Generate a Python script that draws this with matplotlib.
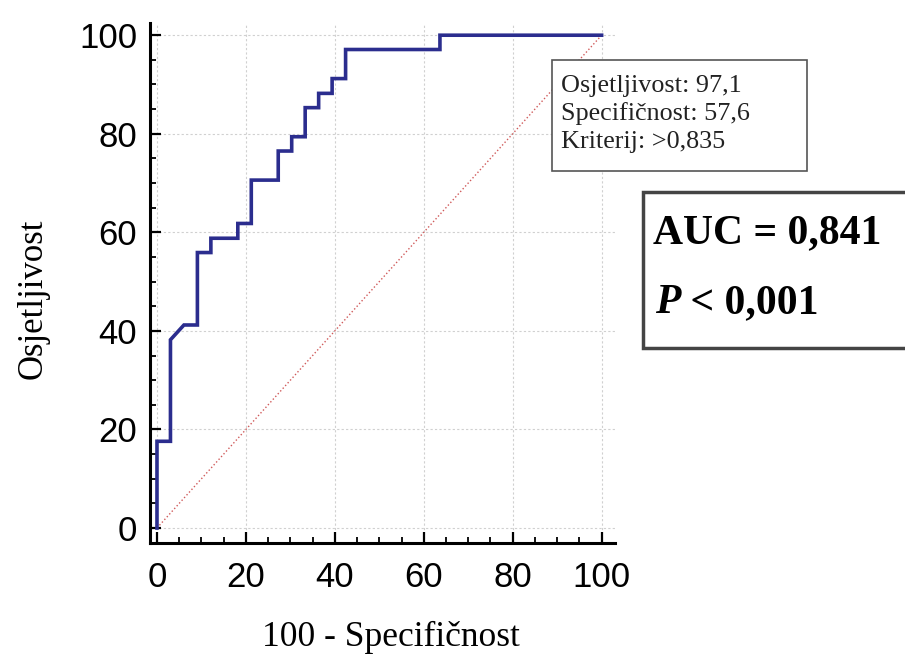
import matplotlib
matplotlib.use("Agg")
import matplotlib.pyplot as plt
from matplotlib.patches import Rectangle
from matplotlib.text import Annotation
from matplotlib.ticker import MultipleLocator

# ROC curve points (100 - specificity, sensitivity)
fpr = [0, 0, 3.03, 3.03, 6.06, 9.09, 9.09, 12.12, 12.12, 18.18, 18.18, 21.21,
       21.21, 27.27, 27.27, 30.30, 30.30, 33.33, 33.33, 36.36, 36.36, 39.39,
       39.39, 42.42, 42.42, 63.64, 63.64, 100]
tpr = [0, 17.6, 17.6, 38.2, 41.2, 41.2, 55.9, 55.9, 58.8, 58.8, 61.8, 61.8,
       70.6, 70.6, 76.5, 76.5, 79.4, 79.4, 85.3, 85.3, 88.2, 88.2, 91.2, 91.2,
       97.1, 97.1, 100, 100]
ref_line = [0, 100]
ticks = [0, 20, 40, 60, 80, 100]
info_lines = ["Osjetljivost: 97,1", "Specifičnost: 57,6", "Kriterij: >0,835"]
auc_text = "AUC = 0,841"
p_text = " < 0,001"

fig = plt.figure(figsize=(9.05, 6.54), dpi=100)
ax = fig.add_axes([0.1656, 0.170, 0.5139, 0.795])

ax.grid(True, color="#d0d0d0", linestyle=(0, (2, 2)), linewidth=0.8, zorder=0)
ax.plot(ref_line, ref_line, color="#d05a5a", linestyle=":", linewidth=1.0, zorder=2)
ax.plot(fpr, tpr, color="#2b2d8e", linewidth=2.6, zorder=3,
        solid_joinstyle="miter")

ax.set_xlim(-1.6, 103)
ax.set_ylim(-3, 102.5)
ax.set_xticks(ticks)
ax.set_yticks(ticks)
ax.xaxis.set_minor_locator(MultipleLocator(5))
ax.yaxis.set_minor_locator(MultipleLocator(5))
ax.tick_params(which="major", direction="in", length=8, width=1.6, pad=9,
               labelsize=25, labelfontfamily="Liberation Sans")
ax.tick_params(axis="x", which="major", pad=13)
ax.tick_params(which="minor", direction="in", length=4.5, width=1.3)

for s in ["top", "right"]:
    ax.spines[s].set_visible(False)
for s in ["left", "bottom"]:
    ax.spines[s].set_linewidth(2.2)

ax.set_xlabel("100 - Specifičnost", fontsize=25.5, family="Liberation Serif",
              va="top")
ax.xaxis.set_label_coords(0.518, -0.150)
ax.set_ylabel("Osjetljivost", fontsize=25, family="Liberation Serif",
              va="center")
ax.yaxis.set_label_coords(-0.252, 0.47)

# info box
fig.patches.append(Rectangle((0.610, 0.7385), 0.2818, 0.1697,
                             transform=fig.transFigure, facecolor="white",
                             edgecolor="#555555", linewidth=1.2, zorder=5))
for i, line in enumerate(info_lines):
    fig.text(0.620, 0.859 - i * 0.0425, line, fontsize=18.8,
             family="Liberation Serif", va="baseline", color="#222222",
             zorder=6)

# AUC box
fig.patches.append(Rectangle((0.7105, 0.468), 0.31, 0.2385,
                             transform=fig.transFigure, facecolor="white",
                             edgecolor="#444444", linewidth=2.5, zorder=5))
fig.text(0.7215, 0.628, auc_text, fontsize=30, family="Liberation Serif",
         weight="bold", va="baseline", zorder=6)
tp = fig.text(0.7235, 0.5214, "P", fontsize=30, family="Liberation Serif",
              weight="bold", style="italic", va="baseline", zorder=6)
fig.add_artist(Annotation(p_text, xy=(1, 0), xycoords=tp, fontsize=30,
                          family="Liberation Serif", weight="bold",
                          va="bottom", ha="left", zorder=6))

fig.savefig("out.png", dpi=100)
